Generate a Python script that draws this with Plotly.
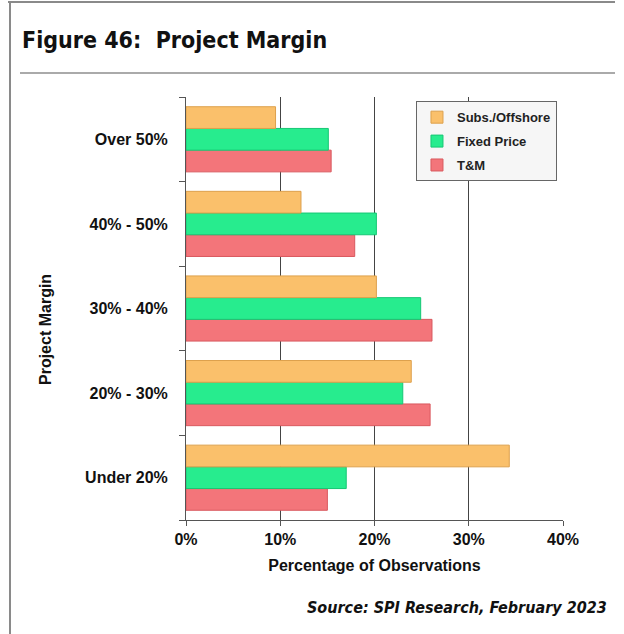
import plotly.graph_objects as go

# Project margin bands, listed bottom-to-top as drawn on the category axis
margin_bands = ["Under 20%", "20% - 30%", "30% - 40%", "40% - 50%", "Over 50%"]

# Share of observations (%) per contract type
subs_offshore = [34.3, 23.9, 20.2, 12.2, 9.5]
fixed_price = [17.0, 23.0, 24.9, 20.2, 15.1]
time_materials = [15.0, 25.9, 26.1, 17.9, 15.4]

x_ticks = [0, 10, 20, 30, 40]
x_tick_text = ["0%", "10%", "20%", "30%", "40%"]

W, H = 624, 634
L, R, T, B = 186, 61, 97, 114

BODY = "Liberation Sans, Arial, sans-serif"
NARROW = "DejaVu Sans Condensed, Liberation Sans Narrow, Arial Narrow, sans-serif"

fig = go.Figure()

# Grouped horizontal bars: the first trace sits lowest within each band,
# while the legend lists them top-down via legendrank
series = [
    ("T&M", time_materials, "#F3757A", "#D9595F", 3),
    ("Fixed Price", fixed_price, "#27EC8E", "#16C774", 2),
    ("Subs./Offshore", subs_offshore, "#FAC06B", "#DDA04C", 1),
]
for i, (name, vals, fill, edge, rank) in enumerate(series):
    fig.add_trace(go.Bar(
        y=margin_bands, x=vals, name=name, orientation="h",
        marker=dict(color=fill, line=dict(color=edge, width=1)),
        legendgroup=f"g{i}", legendrank=rank,
    ))

fig.update_layout(
    width=W, height=H,
    margin=dict(l=L, r=R, t=T, b=B, pad=0),
    paper_bgcolor="white", plot_bgcolor="white",
    barmode="group", bargap=0.23, bargroupgap=0.0,
    font=dict(family=BODY, size=16, color="#111", weight="bold"),
    showlegend=True,
    legend=dict(
        x=0.61, y=0.99, xanchor="left", yanchor="top",
        traceorder="grouped", tracegroupgap=4,
        bgcolor="#F6F6F6", bordercolor="#666", borderwidth=1,
        font=dict(family=BODY, size=13, color="#222", weight="bold"),
        itemwidth=30,
    ),
)

fig.update_xaxes(
    range=[0, 40], tickvals=x_ticks, ticktext=x_tick_text,
    showgrid=True, gridcolor="#444", gridwidth=1, zeroline=False,
    showline=True, linecolor="#555", linewidth=1,
    ticks="outside", ticklen=5, tickcolor="#555",
    tickfont=dict(size=16, family=BODY, weight="bold"),
    title=dict(text="Percentage of Observations", standoff=12,
               font=dict(size=16, family=BODY, weight="bold")),
)
fig.update_yaxes(
    categoryorder="array", categoryarray=margin_bands,
    showgrid=False, zeroline=False,
    showline=True, linecolor="#555", linewidth=1,
    ticks="outside", ticklen=6, tickcolor="#555", tickson="boundaries",
    tickfont=dict(size=16, family=BODY, weight="bold"),
    ticklabelstandoff=14,
)

# Y axis title, rotated
fig.add_annotation(
    text="Project Margin", textangle=-90, showarrow=False,
    xref="paper", yref="paper",
    x=(45 - L) / (W - L - R), y=(H - B - 330) / (H - T - B),
    xanchor="center", yanchor="middle",
    font=dict(size=16, family=BODY, weight="bold", color="#111"),
)

# Heading and source line
fig.add_annotation(
    text="Figure 46:  Project Margin", showarrow=False,
    xref="paper", yref="paper",
    x=(20 - L) / (W - L - R), y=(H - B - 55) / (H - T - B),
    xanchor="left", yanchor="bottom",
    font=dict(size=23, family=NARROW, weight="bold", color="#111"),
)
fig.add_annotation(
    text="<i>Source: SPI Research, February 2023</i>", showarrow=False,
    xref="paper", yref="paper",
    x=(609 - L) / (W - L - R), y=(H - B - 619) / (H - T - B),
    xanchor="right", yanchor="bottom",
    font=dict(size=16, family=NARROW, weight="bold", color="#111"),
)

# Page frame and heading rule
def px_x(v):
    return (v - L) / (W - L - R)

def px_y(v):
    return (H - B - v) / (H - T - B)

frame = dict(type="line", xref="paper", yref="paper", layer="above")
fig.add_shape(**frame, x0=px_x(8), x1=px_x(615), y0=px_y(2), y1=px_y(2),
              line=dict(color="#8A8A8A", width=2))
fig.add_shape(**frame, x0=px_x(10), x1=px_x(10), y0=px_y(2), y1=px_y(634),
              line=dict(color="#8A8A8A", width=2))
fig.add_shape(**frame, x0=px_x(20), x1=px_x(615), y0=px_y(73), y1=px_y(73),
              line=dict(color="#AAAAAA", width=2))

fig.write_html("out.html")
